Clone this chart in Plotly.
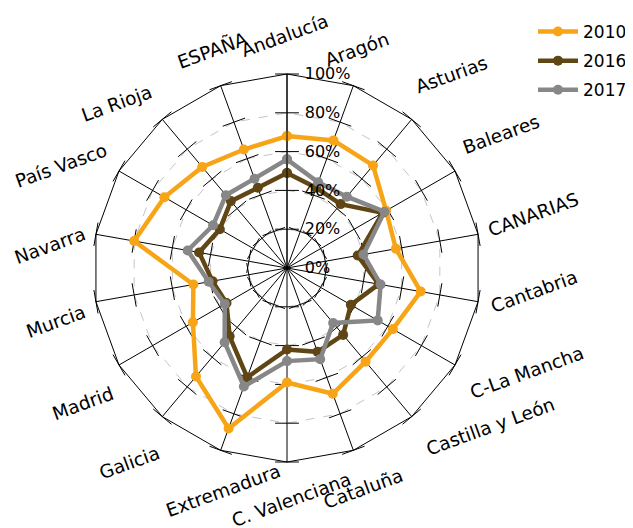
import math
import plotly.graph_objects as go

categories = ["Andalucía", "Aragón", "Asturias", "Baleares", "CANARIAS", "Cantabria",
              "C-La Mancha", "Castilla y León", "Cataluña", "C. Valenciana", "Extremadura",
              "Galicia", "Madrid", "Murcia", "Navarra", "País Vasco", "La Rioja", "ESPAÑA"]
years = ["2010", "2016", "2017"]
v2010 = [68, 70, 69, 59, 57, 70, 63, 63, 69, 59, 88, 73, 56, 49, 80, 73, 68, 65]
v2016 = [49, 44, 43, 57, 37, 48, 38, 45, 46, 42, 60, 46, 36, 39, 46, 40, 45, 44]
v2017 = [56, 47, 48, 58, 40, 49, 54, 37, 50, 48, 65, 50, 37, 41, 52, 44, 49, 49]
radial_ticks = [0, 20, 40, 60, 80, 100]
radial_ticktext = ["0%", "20%", "40%", "60%", "80%", "100%"]

# label placement (layout only): angle (deg, clockwise from top) and distance (px) from centre
label_angle = [-0.5, 17.8, 40.5, 58, 77.8, 95.5, 113.5, 128, 160.8, 178.8,
               196, 219, 236.5, 257, 275.5, 294.5, 314, 341]
label_dist = [233, 229, 254, 252, 252, 248, 261, 258, 234, 232,
              231, 250, 245, 237, 238, 248, 237, 230]

colors = ["#F7A416", "#5F4614", "#878787"]
# the page body adds an 8px offset; the figure fills the rest of the 633x528 window
OFF = 8
W, H = 633 - OFF, 528 - OFF
FONT = "DejaVu Sans"

fig = go.Figure()

# small tick marks across each spoke
n = len(categories)
tick_r, tick_t, tick_a = [], [], []
for k, c in enumerate(categories):
    for rv in radial_ticks[1:]:
        tick_r.append(rv)
        tick_t.append(c)
        tick_a.append(360.0 * k / n)
fig.add_trace(go.Scatterpolar(
    r=tick_r, theta=tick_t, mode="markers", showlegend=False, hoverinfo="skip",
    marker=dict(symbol="line-ew", size=17, angle=tick_a,
                line=dict(color="black", width=1))))

for name, vals, col in zip(years, [v2010, v2016, v2017], colors):
    fig.add_trace(go.Scatterpolar(
        r=vals + vals[:1], theta=categories + categories[:1], name=name,
        legendgroup=name,
        mode="lines+markers",
        line=dict(color=col, width=4.5),
        marker=dict(color=col, size=10)))

# polar centre (screen px 287,268) and radius 194
cx, cy, R = 287 - OFF, 268 - OFF, 194
dom_x = [(cx - R) / W, (cx + R) / W]
dom_y = [1 - (cy + R) / H, 1 - (cy - R) / H]

fig.update_layout(
    width=W, height=H,
    margin=dict(l=0, r=0, t=0, b=0, autoexpand=False),
    paper_bgcolor="white", plot_bgcolor="white",
    font=dict(family=FONT, color="black"),
    polar=dict(
        domain=dict(x=dom_x, y=dom_y),
        gridshape="linear",
        bgcolor="white",
        radialaxis=dict(
            range=[0, 100], tickvals=radial_ticks, ticktext=radial_ticktext,
            angle=90, tickangle=90, showline=True, linecolor="black", linewidth=1,
            ticks="outside", ticklen=14, tickcolor="rgba(0,0,0,0)",
            gridcolor="#C4C4C4", griddash="dash", gridwidth=1,
            tickfont=dict(family=FONT, size=16, color="black"),
        ),
        angularaxis=dict(
            direction="clockwise", rotation=90,
            showline=True, linecolor="black", linewidth=1,
            gridcolor="black", gridwidth=1,
            showticklabels=False, ticks="",
        ),
    ),
    legend=dict(
        x=525 / W, y=1 - 6 / H, xanchor="left", yanchor="top",
        font=dict(family=FONT, size=17, color="black"),
        tracegroupgap=4, itemwidth=40, bgcolor="rgba(0,0,0,0)",
    ),
)

# category labels, tilted as in the original
annotations = []
for c, ang, dist in zip(categories, label_angle, label_dist):
    th = math.radians(ang)
    px = cx + dist * math.sin(th)
    py = cy - dist * math.cos(th)
    annotations.append(dict(
        x=px / W, y=1 - py / H, xref="paper", yref="paper",
        text=c, showarrow=False, textangle=-20,
        xanchor="center", yanchor="middle",
        font=dict(family=FONT, size=18.5, color="black")))
fig.update_layout(annotations=annotations)

fig.write_html("out.html")
